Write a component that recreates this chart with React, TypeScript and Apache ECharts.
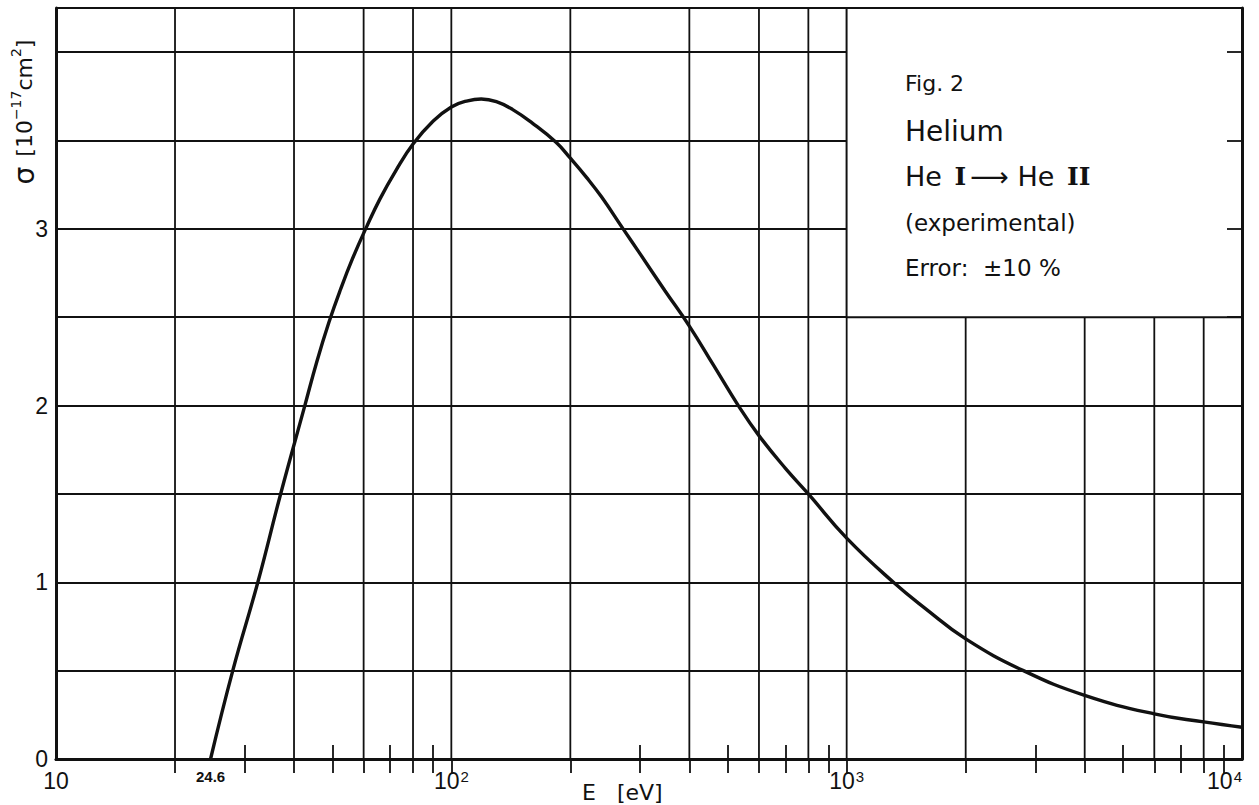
import React, { useEffect, useRef } from "react";
import * as echarts from "echarts";

// Measured cross-section curve: energy (eV) and sigma (10^-17 cm^2)
const energyEV = [24.6, 28, 32.4, 37, 42.6, 45.7, 49, 52.5, 56.2, 61, 66, 72.4, 80, 90, 100, 110, 119, 130, 143, 160, 184, 200, 220, 240, 272, 300, 347, 400, 460, 532, 600, 700, 800, 1000, 1313, 1585, 2000, 2800, 4000, 6000, 8000, 10000];
const sigma = [0, 0.5, 1.0, 1.5, 2.0, 2.25, 2.47, 2.66, 2.83, 3.01, 3.17, 3.33, 3.48, 3.61, 3.69, 3.725, 3.735, 3.72, 3.675, 3.6, 3.49, 3.4, 3.29, 3.18, 3.0, 2.86, 2.65, 2.45, 2.23, 2.0, 1.83, 1.645, 1.5, 1.25, 1.0, 0.85, 0.68, 0.5, 0.36, 0.255, 0.21, 0.18];

// Axis ranges, grid lines and ticks
const E_MIN = 10;
const E_MAX = 10000;
const S_MIN = 0;
const S_MAX = 4.25;
const majorGridE = [20, 40, 60, 80, 100, 200, 400, 600, 800, 1000, 2000, 4000, 6000, 8000];
const minorTickE = [30, 50, 70, 90, 300, 500, 700, 900, 3000, 5000, 7000, 9000];
const sigmaGrid = [0.5, 1, 1.5, 2, 2.5, 3, 3.5, 4];
const xLabelValues = [10, 24.6, 100, 1000, 10000];
const insetCorner = [1000, 2.5];

const FONT = "'Liberation Sans', 'DejaVu Sans', sans-serif";
const FONT2 = "'DejaVu Sans', 'Liberation Sans', sans-serif";

export default function App() {
  const ref = useRef<HTMLDivElement>(null);
  useEffect(() => {
    if (!ref.current) return;
    const chart = echarts.init(ref.current, undefined, { renderer: "svg" });
    const black = "#111";
    const gridLine = (x1: number, y1: number, x2: number, y2: number) => ({
      type: "line",
      shape: { x1, y1, x2, y2 },
      style: { stroke: black, lineWidth: 1.8 },
    });
    const option: any = {
      animation: false,
      backgroundColor: "#fff",
      grid: { left: 56, right: 17, top: 8, bottom: 46 },
      xAxis: [
        {
          type: "log",
          logBase: 10,
          min: E_MIN,
          max: E_MAX,
          position: "bottom",
          z: 10,
          axisLine: { show: true, lineStyle: { color: black, width: 3 } },
          axisTick: {
            show: true,
            inside: true,
            length: 14,
            customValues: minorTickE,
            lineStyle: { color: black, width: 1.8 },
          },
          splitLine: { show: false },
          minorTick: { show: false },
          axisLabel: {
            customValues: xLabelValues,
            margin: 10,
            alignMaxLabel: "right",
            formatter: (v: number) => {
              if (Math.abs(v - 24.6) < 0.05) return "{s|24.6}";
              const ex = Math.round(Math.log10(v));
              if (ex === 1) return "{b|10}";
              return "{b|10}{sup|" + ex + "}";
            },
            rich: {
              b: { fontFamily: FONT, fontSize: 23, color: black, lineHeight: 24 },
              s: { fontFamily: FONT, fontSize: 15, fontWeight: "bold", color: black, lineHeight: 14 },
              sup: { fontFamily: FONT, fontSize: 15, color: black, lineHeight: 24, verticalAlign: "top", padding: [0, 0, 10, 1] },
            },
          },
        },
        {
          type: "log",
          logBase: 10,
          min: E_MIN,
          max: E_MAX,
          position: "top",
          z: 10,
          axisLine: { show: true, lineStyle: { color: black, width: 2.5 } },
          axisTick: {
            show: true,
            inside: true,
            length: 14,
            customValues: [...minorTickE, ...majorGridE],
            lineStyle: { color: black, width: 1.8 },
          },
          axisLabel: { show: false },
          splitLine: { show: false },
        },
      ],
      yAxis: [
        {
          type: "value",
          min: S_MIN,
          max: S_MAX,
          interval: 0.5,
          position: "left",
          axisLine: { show: true, lineStyle: { color: black, width: 3 } },
          axisTick: { show: false },
          splitLine: { show: true, lineStyle: { color: black, width: 1.8 } },
          axisLabel: {
            margin: 8,
            fontFamily: FONT,
            fontSize: 23,
            color: black,
            formatter: (v: number) => (Number.isInteger(v) && v <= 3 ? String(v) : ""),
          },
        },
        {
          type: "value",
          min: S_MIN,
          max: S_MAX,
          position: "right",
          z: 10,
          axisLine: { show: true, lineStyle: { color: black, width: 3 } },
          axisTick: {
            show: true,
            inside: true,
            length: 15,
            customValues: sigmaGrid,
            lineStyle: { color: black, width: 1.8 },
          },
          axisLabel: { show: false },
          splitLine: { show: false },
        },
      ],
      series: [
        {
          type: "custom",
          name: "vgrid",
          z: 1,
          silent: true,
          data: majorGridE.map((e) => [e, 0]),
          encode: { x: 0, y: 1 },
          renderItem: (params: any, api: any) => {
            const e = api.value(0);
            const a = api.coord([e, S_MIN]);
            const b = api.coord([e, S_MAX]);
            return gridLine(a[0], a[1], b[0], b[1]);
          },
        },
        {
          type: "custom",
          name: "inset",
          z: 2,
          silent: true,
          data: [insetCorner],
          encode: { x: 0, y: 1 },
          renderItem: (params: any, api: any) => {
            const p1 = api.coord([api.value(0), api.value(1)]);
            const p2 = api.coord([E_MAX, S_MAX]);
            return {
              type: "rect",
              shape: { x: p1[0], y: p2[1], width: p2[0] - p1[0], height: p1[1] - p2[1] },
              style: { fill: "#fff", stroke: black, lineWidth: 1.8 },
            };
          },
        },
        {
          type: "line",
          name: "He I → He II",
          z: 4,
          data: energyEV.map((e, i) => [e, sigma[i]]),
          showSymbol: false,
          symbol: "none",
          smooth: 0.45,
          lineStyle: { color: black, width: 3.4 },
        },
      ],
      graphic: [
        {
          type: "text",
          z: 100,
          x: 24,
          y: 112,
          rotation: Math.PI / 2,
          style: {
            text: "{g|σ}   {t|[10}{sup|−17}{t|cm}{sup|2}{t|]}",
            align: "center",
            verticalAlign: "middle",
            rich: {
              g: { fontFamily: FONT2, fontSize: 28, fill: black, lineHeight: 30 },
              t: { fontFamily: FONT2, fontSize: 22, fill: black, lineHeight: 30 },
              sup: { fontFamily: FONT2, fontSize: 14, fill: black, lineHeight: 30, verticalAlign: "top", padding: [0, 0, 12, 0] },
            },
          },
        },
        {
          type: "text",
          z: 100,
          x: 582,
          y: 792,
          style: { text: "E   [eV]", fontFamily: FONT2, fontSize: 22, fill: black, verticalAlign: "middle" },
        },
        {
          type: "text",
          z: 100,
          x: 905,
          y: 83,
          style: { text: "Fig. 2", fontFamily: FONT2, fontSize: 22, fill: black, verticalAlign: "middle" },
        },
        {
          type: "text",
          z: 100,
          x: 905,
          y: 131,
          style: { text: "Helium", fontFamily: FONT2, fontSize: 28, fill: black, verticalAlign: "middle" },
        },
        {
          type: "text",
          z: 100,
          x: 905,
          y: 176,
          style: {
            text: "{a|He }{r|I}{a|⟶ }{a|He }{r|II}",
            verticalAlign: "middle",
            rich: {
              a: { fontFamily: FONT2, fontSize: 27, fill: black },
              r: { fontFamily: "'DejaVu Serif', 'Liberation Serif', serif", fontSize: 25, fontWeight: "bold", fill: black, padding: [0, 4, 0, 4] },
            },
          },
        },
        {
          type: "text",
          z: 100,
          x: 905,
          y: 223,
          style: { text: "(experimental)", fontFamily: FONT2, fontSize: 23, fill: black, verticalAlign: "middle" },
        },
        {
          type: "text",
          z: 100,
          x: 905,
          y: 268,
          style: { text: "Error:  ±10 %", fontFamily: FONT2, fontSize: 23, fill: black, verticalAlign: "middle" },
        },
      ],
    };
    chart.setOption(option);
    return () => chart.dispose();
  }, []);
  return (
    <div
      ref={ref}
      style={{ position: "fixed", left: 0, top: 0, width: 1259, height: 805, background: "#fff" }}
    />
  );
}
